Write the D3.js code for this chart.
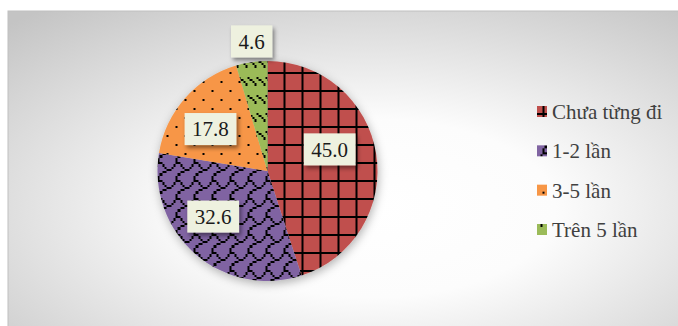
<!DOCTYPE html>
<html>
<head>
<meta charset="utf-8">
<script src="https://cdn.jsdelivr.net/npm/d3@7"></script>
<style>
  body { margin: 0; background: #fff; }
  svg { display: block; }
  .serif { font-family: "Liberation Serif", "Times New Roman", "DejaVu Serif", serif; }
</style>
</head>
<body>
<div id="chart"></div>
<script>
// data
var categories = ["Chưa từng đi", "1-2 lần", "3-5 lần", "Trên 5 lần"];
var values = [45.0, 32.6, 17.8, 4.6];
var colors = ["#C0504D", "#8064A2", "#F79646", "#9BBB59"];

// 8x8 hatch bitmaps (large grid, shingle, 5% dots, dashed downward diagonal)
var hatches = [
  [0xff, 0x01, 0x01, 0x01, 0x01, 0x01, 0x01, 0x01],
  [0x03, 0x84, 0x48, 0x30, 0x0c, 0x02, 0x01, 0x01],
  [0x01, 0x00, 0x00, 0x00, 0x10, 0x00, 0x00, 0x00],
  [0x00, 0x00, 0x11, 0x22, 0x44, 0x88, 0x00, 0x00]
];

// svg container
var svgWidth = 678;
var svgHeight = 326;

var cx = 267.5, cy = 171, radius = 110;
var px = 2.25;        // size of one hatch pixel
var tile = px * 8;

var svg = d3.select("#chart")
  .append("svg")
  .attr("width", svgWidth)
  .attr("height", svgHeight);

var defs = svg.append("defs");

// background gradient
var grad = defs.append("radialGradient")
  .attr("id", "bg")
  .attr("cx", "0.52").attr("cy", "0.58").attr("r", "0.75");
grad.append("stop").attr("offset", "0%").attr("stop-color", "#ffffff");
grad.append("stop").attr("offset", "35%").attr("stop-color", "#fcfcfc");
grad.append("stop").attr("offset", "100%").attr("stop-color", "#c4c4c4");

// shadows
var sh = defs.append("filter").attr("id", "boxShadow")
  .attr("x", "-30%").attr("y", "-30%").attr("width", "170%").attr("height", "170%");
sh.append("feDropShadow").attr("dx", 2).attr("dy", 3)
  .attr("stdDeviation", 2).attr("flood-color", "#000").attr("flood-opacity", 0.45);

var psh = defs.append("filter").attr("id", "pieShadow")
  .attr("x", "-20%").attr("y", "-20%").attr("width", "140%").attr("height", "140%");
psh.append("feDropShadow").attr("dx", 1).attr("dy", 3)
  .attr("stdDeviation", 5).attr("flood-color", "#000").attr("flood-opacity", 0.3);

// build a hatch pattern from its bitmap
function makePattern(id, i, x0, y0) {
  var p = defs.append("pattern").attr("id", id)
    .attr("patternUnits", "userSpaceOnUse")
    .attr("x", x0).attr("y", y0)
    .attr("width", tile).attr("height", tile);
  p.append("rect").attr("width", tile).attr("height", tile).attr("fill", colors[i]);
  var d = "";
  hatches[i].forEach(function(row, r) {
    for (var c = 0; c < 8; c++) {
      if ((row >> c) & 1) d += `M${c * px},${r * px}h${px}v${px}h${-px}z`;
    }
  });
  p.append("path").attr("d", d).attr("fill", "#000").attr("shape-rendering", "crispEdges");
}
colors.forEach((c, i) => makePattern("pat" + i, i, 268, 81));

// chart area
svg.append("rect")
  .attr("x", 8).attr("y", 11)
  .attr("width", 700).attr("height", 340)
  .attr("fill", "url(#bg)")
  .attr("stroke", "#c0c0c0");

// pie
var pie = d3.pie().sort(null).value(d => d);
var arcs = pie(values);
var arc = d3.arc().innerRadius(0).outerRadius(radius);

var pieGroup = svg.append("g")
  .attr("transform", `translate(${cx}, ${cy})`)
  .attr("filter", "url(#pieShadow)");

pieGroup.selectAll("path")
  .data(arcs)
  .enter()
  .append("path")
  .attr("d", arc)
  .attr("fill", (d, i) => `url(#pat${i})`);

// data labels
var inner = d3.arc().innerRadius(68).outerRadius(68);
var outer = d3.arc().innerRadius(131).outerRadius(131);
var labelShift = [[-5, -11], [-10, -6], [-6, 3], [3, 0]];

var labelGroup = svg.append("g")
  .attr("transform", `translate(${cx}, ${cy})`);

arcs.forEach(function(d, i) {
  var c = (d.data < 6 ? outer : inner).centroid(d);
  var x = c[0] + labelShift[i][0];
  var y = c[1] + labelShift[i][1];
  var g = labelGroup.append("g").attr("transform", `translate(${x}, ${y})`);
  var t = g.append("text")
    .attr("class", "serif")
    .text(d.data.toFixed(1))
    .attr("text-anchor", "middle")
    .attr("dy", "0.34em")
    .style("font-size", "21px")
    .attr("fill", "#1a1a1a");
  var w = t.node().getComputedTextLength() + 15;
  g.insert("rect", "text")
    .attr("x", -w / 2).attr("y", -16)
    .attr("width", w).attr("height", 32)
    .attr("fill", "#EEF1DF")
    .attr("filter", "url(#boxShadow)");
});

// legend
var legendY = d3.scalePoint().domain(categories).range([112, 230]);
var legend = svg.append("g");

categories.forEach(function(c, i) {
  var y = legendY(c);
  makePattern("leg" + i, i, 537 - 12.5, y - 6 - 11);
  legend.append("rect")
    .attr("x", 537).attr("y", y - 6)
    .attr("width", 10).attr("height", 11)
    .attr("fill", `url(#leg${i})`);
  legend.append("text")
    .attr("class", "serif")
    .attr("x", 552).attr("y", y)
    .attr("dy", "0.34em")
    .style("font-size", "21px")
    .attr("fill", "#404040")
    .text(c);
});
</script>
</body>
</html>
